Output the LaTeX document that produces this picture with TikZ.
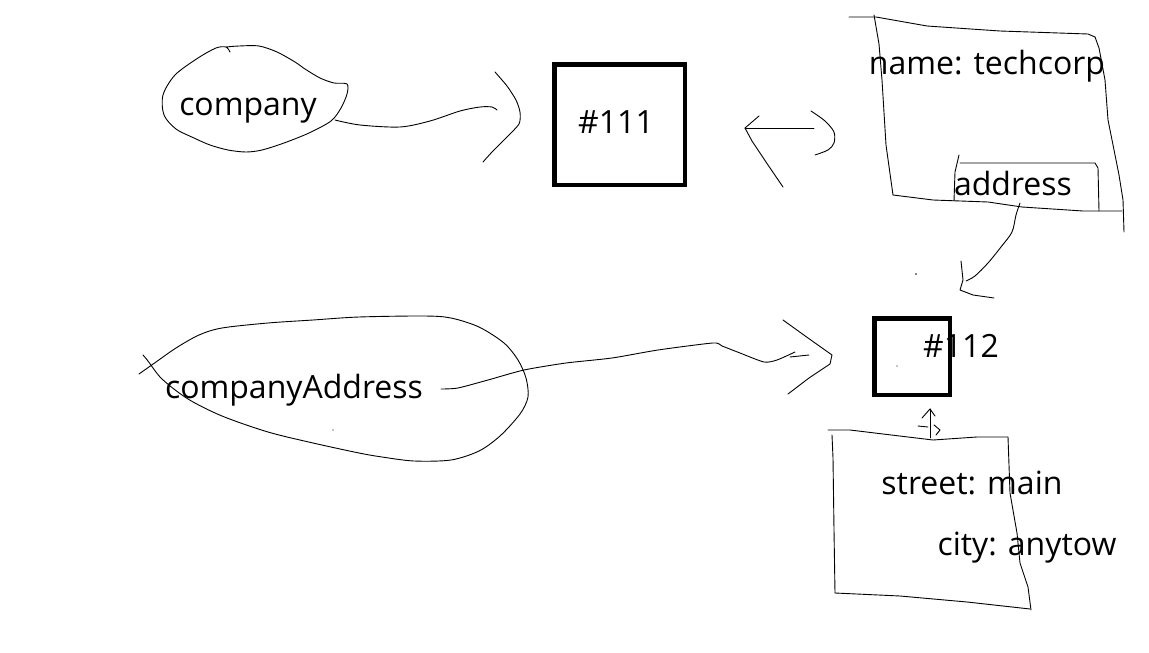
\documentclass[tikz,border=0pt]{standalone}
\usepackage{fontspec}
\setmainfont{Open Sans}
\begin{document}
\begin{tikzpicture}[x=1pt,y=-1pt,
  pen/.style={line width=0.9pt, line join=round, line cap=round},
  heavy/.style={draw, line width=4.5pt, inner sep=0pt},
  lbl/.style={font=\fontsize{32}{38}\selectfont, inner sep=0pt, anchor=center}]
\useasboundingbox[fill=white] (0,0) rectangle (1149,653);

% ---------- texts ----------
\node[lbl] (company) at (248,111) {company};
\node[lbl] (compaddr) at (294,390) {companyAddress};
\node[heavy, minimum width=130.5pt, minimum height=120.5pt] (b111) at (619.5,124.5) {};
\node[lbl] (t111) at (616,122) {\#111};
\node[heavy, minimum width=75.5pt, minimum height=76.5pt] (b112) at (912,356.5) {};
\node[lbl] (t112) at (961,346) {\#112};
\node[lbl] (name) at (987,66) {name: techcorp};
\node[lbl] (address) at (1013,183) {address};
\node[lbl] (street) at (972,483) {street: main};
\node[lbl] (city) at (1027,548) {city: anytow};

% ---------- company blob ----------
\draw[pen] plot[smooth, tension=0.5] coordinates {(230,52) (226,47) (216,48) (198,58) (175,75) (163,95) (164,115) (176,129) (194,138) (210,145) (228,150) (246,152) (262,150) (284,143) (309,133) (331,121) (341,108) (347,94) (347,84) (334,83) (320,78) (305,69) (295,62) (277,52) (259,46) (239,46) (226,47)};

% ---------- company -> #111 ----------
\coordinate (a1s) at (335,120);
\coordinate (a1e) at (497,110);
\draw[pen] plot[smooth, tension=0.5] coordinates {(a1s) (360,125) (400,127) (430,121) (460,111) (480,107) (492,107) (a1e)};
\draw[pen] plot[smooth, tension=0.4] coordinates {(495,72) (507,86) (516,100) (520,112) (519,124) (505,139) (492,152) (483,162)};

% ---------- #111 <- name box ----------
\coordinate (a2s) at (814,128);
\coordinate (a2e) at (745,128);
\draw[pen] (a2s) -- (a2e);
\draw[pen] (759,116) -- (a2e) -- (752,141) -- (768,165) -- (783,187);
\draw[pen] plot[smooth, tension=0.5] coordinates {(811,111) (825,121) (834,132) (834,143) (828,150) (815,155)};

% ---------- name box ----------
\draw[pen] (849,17) -- (876,17) -- (927,26) -- (1000,31) -- (1088,34) -- (1095,37);
\draw[pen] (874,15) -- (879,44) -- (882,80) -- (886,145) -- (893,195);
\draw[pen] (893,195) -- (933,200) -- (988,202) -- (1022,207) -- (1083,211) -- (1122,211);
\draw[pen] (1095,37) -- (1099,48) -- (1105,80) -- (1108,120) -- (1114,150) -- (1119,175) -- (1123,200) -- (1124,232);
% address box
\draw[pen] (959,155) -- (955,172) -- (954,201);
\draw[pen] (960,163) -- (1095,163) -- (1098,168) -- (1099,211);

% ---------- address -> #112 ----------
\coordinate (a3s) at (1020,203);
\coordinate (a3e) at (966,281);
\draw[pen] plot[smooth, tension=0.5] coordinates {(a3s) (1016,215) (1012,232) (1001,247) (988,263) (975,276) (a3e)};
\draw[pen] (961,261) -- (963,280) -- (960,290) -- (973,295) -- (994,298);
\fill (916,274) circle (0.8pt);

% ---------- companyAddress blob ----------
\draw[pen] plot[smooth, tension=0.5] coordinates {(139,374) (156,362) (176,348) (199,335) (222,328) (268,323) (313,320) (359,317) (424,316) (451,318) (479,327) (504,343) (518,360) (526,378) (528,397) (520,414) (500,436) (479,451) (451,460) (414,461) (382,457) (359,453) (313,443) (268,432) (222,416) (188,399) (162,379) (148,361) (143,355)};
\fill (333,430) circle (0.7pt);

% ---------- companyAddress -> #112 ----------
\coordinate (a4s) at (441,389);
\coordinate (a4e) at (809,355);
\draw[pen] plot[smooth, tension=0.4] coordinates {(a4s) (458,388) (488,380) (524,370) (566,363) (612,358) (658,350) (713,343) (722,346) (740,353) (764,362) (777,360) (795,352)};
\draw[pen] (790,357) -- (a4e);
\draw[pen] (783,320) -- (808,338) -- (832,355) -- (830,364) -- (809,378) -- (788,394);
\fill (897,366) circle (0.6pt);

% ---------- street box ----------
\draw[pen] (828,430) -- (850,430) -- (883,434) -- (933,440) -- (977,437) -- (1008,437);
\draw[pen] (832,435) -- (833,458) -- (834,530) -- (835,593);
\draw[pen] (835,593) -- (900,596) -- (967,602) -- (1030,609);
\draw[pen] (1008,437) -- (1010,493) -- (1017,533) -- (1020,563) -- (1028,587) -- (1031,610);

% ---------- street box -> #112 ----------
\coordinate (a5s) at (930,438);
\coordinate (a5e) at (930,409);
\draw[pen] (a5s) -- (a5e);
\draw[pen] (922,418) -- (a5e) -- (935,416);
\draw[pen] (918,426) -- (928,427);
\draw[pen] (934,425) -- (940,430) -- (936,435);
\end{tikzpicture}
\end{document}
